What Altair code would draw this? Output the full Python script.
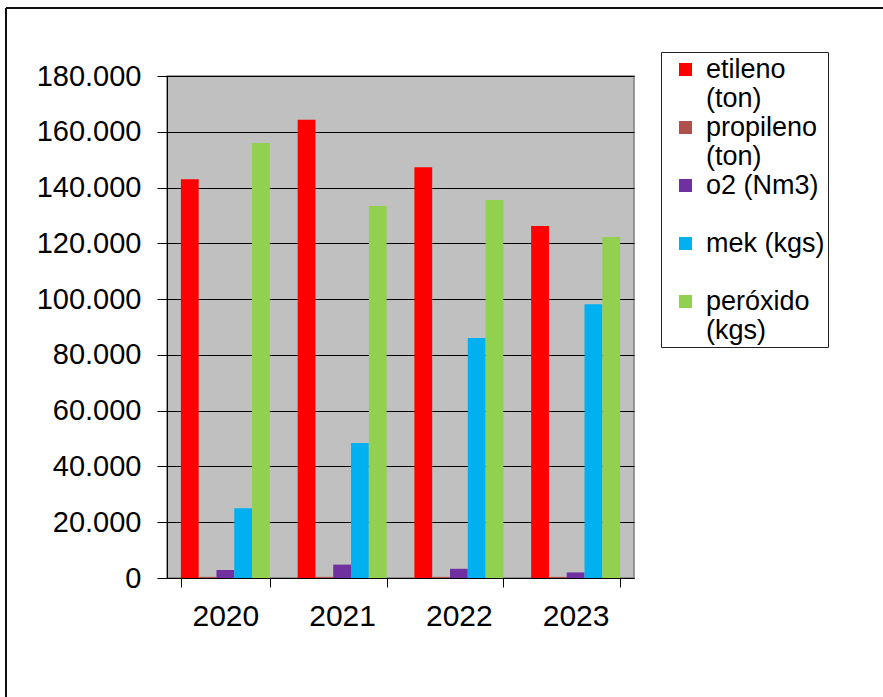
import json
import altair as alt
import pandas as pd

# ---- data ----
years = ["2020", "2021", "2022", "2023"]
series = ["etileno (ton)", "propileno (ton)", "o2 (Nm3)", "mek (kgs)", "peróxido (kgs)"]
etileno = [143000, 164300, 147300, 126200]
propileno = [400, 400, 400, 400]
o2 = [2900, 4800, 3300, 2000]
mek = [25000, 48400, 86100, 98200]
peroxido = [156000, 133400, 135500, 122300]
colors = ["#FF0000", "#B0504D", "#7030A0", "#00B0F0", "#92D050"]
y_ticks = [0, 20000, 40000, 60000, 80000, 100000, 120000, 140000, 160000, 180000]
legend_lines = [
    ["etileno", "(ton)"],
    ["propileno", "(ton)"],
    ["o2 (Nm3)", ""],
    ["mek (kgs)\u00a0", ""],
    ["peróxido", "(kgs)"],
]

values_by_series = [etileno, propileno, o2, mek, peroxido]
rows = []
for s, vals in zip(series, values_by_series):
    for yr, v in zip(years, vals):
        rows.append({"year": yr, "series": s, "value": v})
df = pd.DataFrame(rows)

# legend label expression (multi-line labels)
expr = "[datum.label]"
for s, lines in reversed(list(zip(series, legend_lines))):
    expr = f"datum.label === {json.dumps(s)} ? {json.dumps(lines)} : ({expr})"

FONT = "Liberation Sans"
PLOT_L, PLOT_T = 167, 76
W, H = 467, 502

bars = alt.Chart(df).mark_bar(strokeWidth=0).encode(
    x=alt.X(
        "year:N",
        sort=years,
        scale=alt.Scale(paddingInner=0.238, paddingOuter=0.119),
        axis=alt.Axis(
            title=None, labelAngle=0, tickBand="extent", tickSize=9,
            labelPadding=14, labelFontSize=30, labelFont=FONT,
            labelColor="black", domainColor="black", tickColor="black",
            domainWidth=1, grid=False,
        ),
    ),
    xOffset=alt.XOffset("series:N", sort=series,
                        scale=alt.Scale(paddingInner=0, paddingOuter=0)),
    y=alt.Y(
        "value:Q",
        scale=alt.Scale(domain=[0, 180000], nice=False),
        axis=alt.Axis(
            values=y_ticks, title=None,
            labelExpr="replace(format(datum.value, ',.0f'), ',', '.')",
            tickSize=10, labelPadding=16, labelFontSize=29, labelFont=FONT,
            labelColor="black", domainColor="black", tickColor="black",
            gridColor="black", gridWidth=1, gridOpacity=1,
        ),
    ),
    color=alt.Color(
        "series:N",
        sort=series,
        scale=alt.Scale(domain=series, range=colors),
        legend=alt.Legend(
            title="\u00a0", titleFontSize=2, titlePadding=7,
            orient="none", legendX=494, legendY=-24,
            labelExpr=expr, labelFont=FONT, labelFontSize=27,
            labelColor="black", labelBaseline="alphabetic",
            labelOffset=7, labelLimit=300,
            symbolType="M-1,-2.23H1V-0.23H-1Z", symbolSize=169,
            symbolStrokeWidth=0, symbolOffset=8,
            rowPadding=1, padding=3,
            strokeColor="#222222", fillColor="white",
        ),
    ),
)

one = pd.DataFrame({"a": [0]})
frame_top = alt.Chart(one).mark_rule(color="#111111", strokeWidth=2).encode(
    x=alt.value(6 - PLOT_L), x2=alt.value(900 - PLOT_L), y=alt.value(8 - PLOT_T)
)
frame_left = alt.Chart(one).mark_rule(color="#111111", strokeWidth=2).encode(
    x=alt.value(6 - PLOT_L), y=alt.value(8 - PLOT_T), y2=alt.value(710 - PLOT_T)
)

chart = alt.layer(bars, frame_top, frame_left).properties(
    width=W, height=H,
    autosize=alt.AutoSizeParams(type="none"),
    padding={"left": PLOT_L, "top": PLOT_T, "right": 883 - PLOT_L - W, "bottom": 697 - PLOT_T - H},
    background="white",
).configure(
    font=FONT,
    view=alt.ViewConfig(fill="#C0C0C0", stroke="#7F7F7F", strokeWidth=1.5),
)

chart.save("out.html", embed_options={"renderer": "svg", "actions": False})
